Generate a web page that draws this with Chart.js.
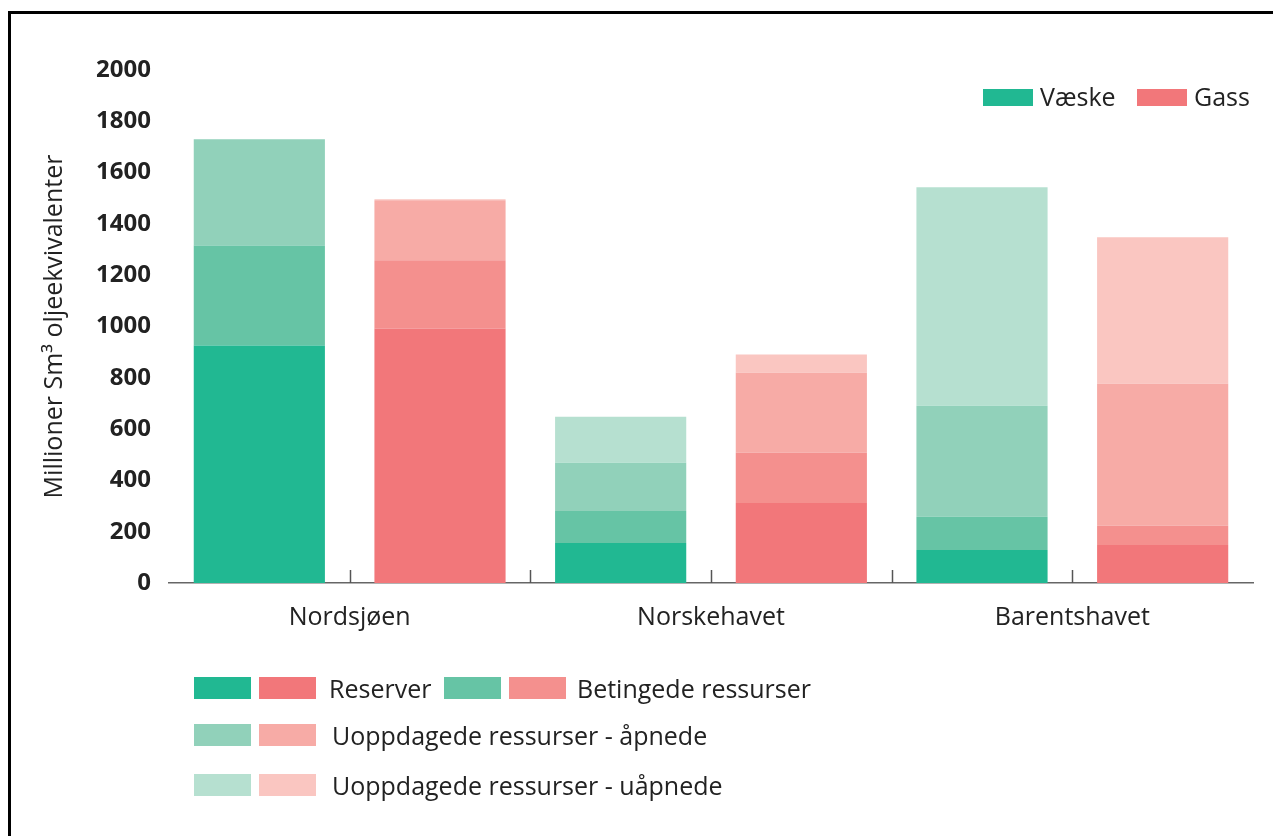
<!DOCTYPE html>
<html lang="no">
<head>
<meta charset="utf-8">
<title>Ressurser per havområde</title>
<script src="https://cdn.jsdelivr.net/npm/chart.js@4.4.1/dist/chart.umd.min.js"></script>
<style>
  html, body { margin: 0; padding: 0; background: #fff; overflow: hidden; }
  body { width: 1273px; height: 836px; position: relative; font-family: 'Open Sans', sans-serif; color: #222; }
  #frame { position: absolute; left: 8px; top: 11px; width: 1400px; height: 1000px; border-left: 3px solid #000; border-top: 3px solid #000; }
  #chart { position: absolute; left: 0; top: 0; }
  .sw { position: absolute; }
  .lbl { position: absolute; font-size: 25px; line-height: 30px; white-space: nowrap; color: #222; }
</style>
</head>
<body>
<div id="frame"></div>
<canvas id="chart" width="1273" height="836"></canvas>
<div id="legend-top"></div>
<div id="legend-bottom"></div>
<script>
const categories = ['Nordsjøen', 'Norskehavet', 'Barentshavet'];

// Væske (liquids), million Sm3 o.e.
const vaeskeReserver = [926, 156, 129];
const vaeskeBetingede = [390, 125, 129];
const vaeskeApnede = [414, 188, 433];
const vaeskeUapnede = [0, 179, 852];

// Gass
const gassReserver = [992, 312, 148];
const gassBetingede = [266, 196, 75];
const gassApnede = [234, 312, 554];
const gassUapnede = [4, 71, 571];

const yTicks = [0, 200, 400, 600, 800, 1000, 1200, 1400, 1600, 1800, 2000];

const layerNames = ['Reserver', 'Betingede ressurser', 'Uoppdagede ressurser - åpnede', 'Uoppdagede ressurser - uåpnede'];
const greens = ['#21b892', '#66c4a5', '#91d1ba', '#b6e0d0'];
const reds = ['#f2777a', '#f4908e', '#f7aba6', '#fac6c1'];

const vaeskeLayers = [vaeskeReserver, vaeskeBetingede, vaeskeApnede, vaeskeUapnede];
const gassLayers = [gassReserver, gassBetingede, gassApnede, gassUapnede];

function buildDatasets() {
  const sets = [];
  layerNames.forEach((name, i) => {
    sets.push({
      label: `Væske - ${name}`,
      data: vaeskeLayers[i],
      backgroundColor: greens[i],
      stack: 'vaeske',
    });
    sets.push({
      label: `Gass - ${name}`,
      data: gassLayers[i],
      backgroundColor: reds[i],
      stack: 'gass',
    });
  });
  return sets;
}

// small upward tick marks on the x axis, at category centres and between categories
const axisTicks = {
  id: 'axisTicks',
  afterDatasetsDraw(chart) {
    const x = chart.scales.x;
    const ctx = chart.ctx;
    const y0 = chart.chartArea.bottom;
    const positions = [];
    categories.forEach((_, i) => {
      positions.push(x.getPixelForValue(i));
      if (i < categories.length - 1) {
        positions.push((x.getPixelForValue(i) + x.getPixelForValue(i + 1)) / 2);
      }
    });
    ctx.save();
    ctx.strokeStyle = '#555';
    ctx.lineWidth = 1.5;
    positions.forEach((px) => {
      ctx.beginPath();
      ctx.moveTo(Math.round(px) + 0.5, y0);
      ctx.lineTo(Math.round(px) + 0.5, y0 - 13);
      ctx.stroke();
    });
    ctx.restore();
  },
};

new Chart(document.getElementById('chart').getContext('2d'), {
  type: 'bar',
  data: { labels: categories, datasets: buildDatasets() },
  plugins: [axisTicks],
  options: {
    responsive: false,
    animation: false,
    categoryPercentage: 1.0,
    barPercentage: 0.726,
    layout: { padding: { left: 0, top: 70, right: 20, bottom: 183 } },
    plugins: {
      legend: { display: false },
      tooltip: { enabled: false },
    },
    scales: {
      x: {
        stacked: true,
        grid: { display: false, drawTicks: false },
        border: { display: true, color: '#666', width: 1.5 },
        ticks: {
          padding: 20,
          color: '#222',
          font: { family: 'Open Sans', size: 25 },
        },
      },
      y: {
        stacked: true,
        min: 0,
        max: 2000,
        afterBuildTicks(scale) {
          scale.ticks = yTicks.map((v) => ({ value: v }));
        },
        afterFit(scale) {
          scale.width = 169;
        },
        grid: { display: false, drawTicks: false },
        border: { display: false },
        ticks: {
          padding: 18,
          color: '#222',
          font: { family: 'Open Sans', size: 24, weight: 'bold' },
          callback: (value) => String(value),
        },
        title: {
          display: true,
          text: 'Millioner Sm³ oljeekvivalenter',
          color: '#222',
          font: { family: 'Open Sans', size: 25 },
          padding: { top: 40, bottom: 0 },
        },
      },
    },
  },
});

// HTML legends
function swatch(parent, left, top, w, h, color) {
  const d = document.createElement('div');
  d.className = 'sw';
  d.style.left = left + 'px';
  d.style.top = top + 'px';
  d.style.width = w + 'px';
  d.style.height = h + 'px';
  d.style.background = color;
  parent.appendChild(d);
}

function label(parent, left, centerY, text) {
  const d = document.createElement('div');
  d.className = 'lbl';
  d.style.left = left + 'px';
  d.style.top = (centerY - 15) + 'px';
  d.textContent = text;
  parent.appendChild(d);
}

const topLegend = document.getElementById('legend-top');
swatch(topLegend, 983, 89, 50, 17, greens[0]);
label(topLegend, 1040, 96, 'Væske');
swatch(topLegend, 1137, 89, 50, 17, reds[0]);
label(topLegend, 1194, 96, 'Gass');

const bottomLegend = document.getElementById('legend-bottom');
const rows = [
  [{ i: 0, x: 194, tx: 329 }, { i: 1, x: 444, tx: 577 }],
  [{ i: 2, x: 194, tx: 332 }],
  [{ i: 3, x: 194, tx: 332 }],
];
const rowTops = [677, 724, 774];
rows.forEach((row, r) => {
  row.forEach((item) => {
    swatch(bottomLegend, item.x, rowTops[r], 57, 22, greens[item.i]);
    swatch(bottomLegend, item.x + 65, rowTops[r], 57, 22, reds[item.i]);
    label(bottomLegend, item.tx, rowTops[r] + 11, layerNames[item.i]);
  });
});
</script>
</body>
</html>
